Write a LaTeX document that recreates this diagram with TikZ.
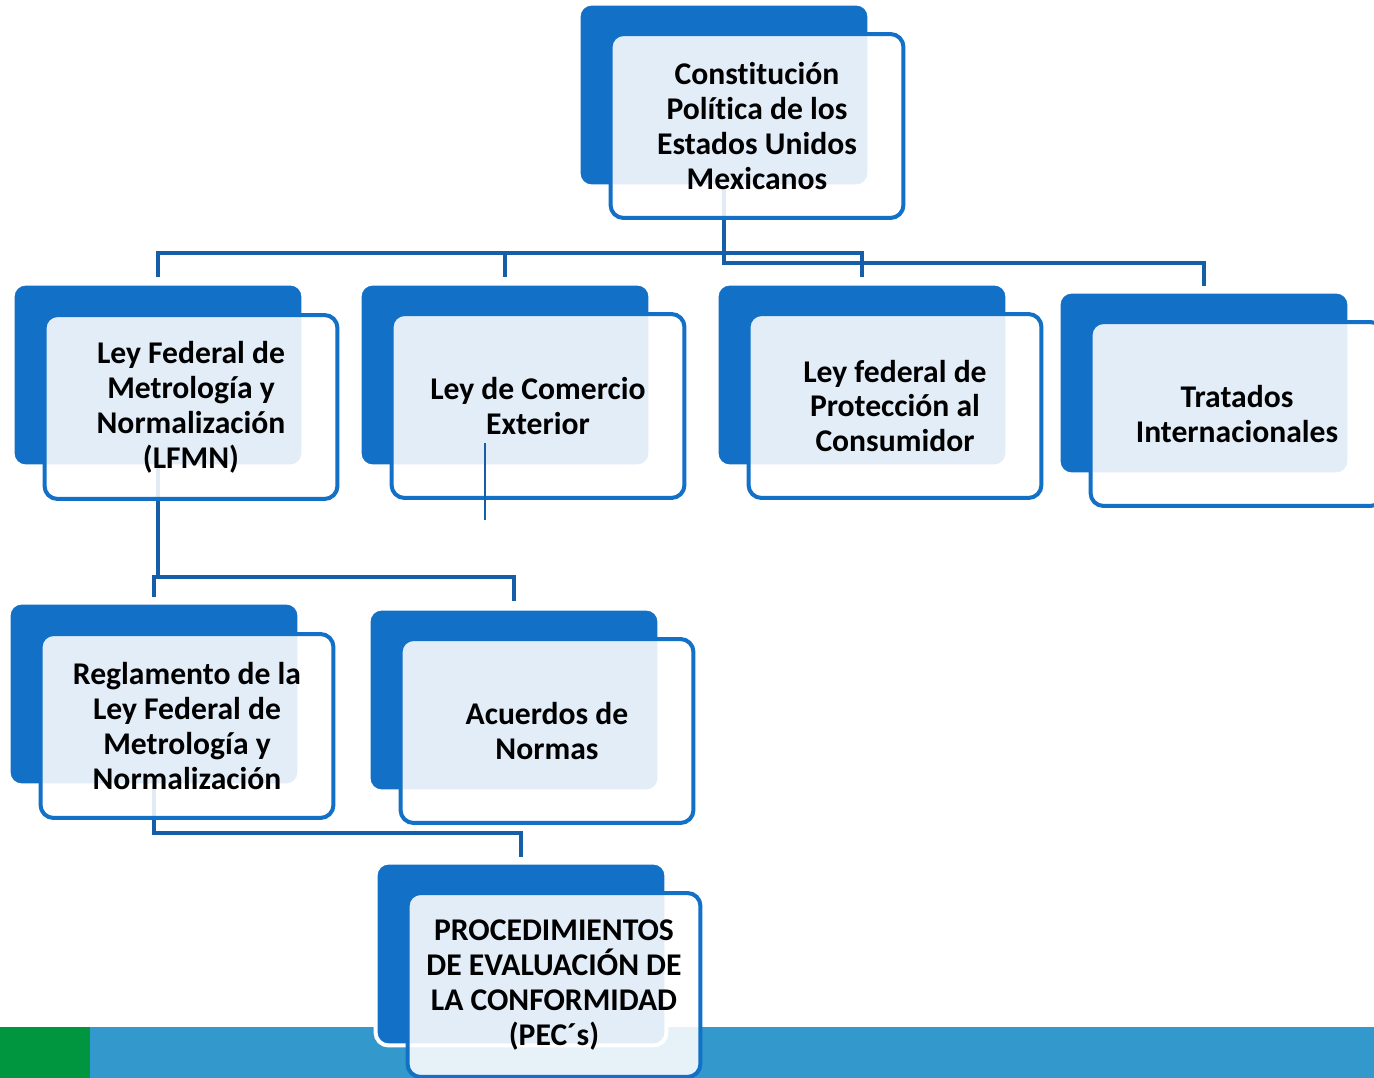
\documentclass[tikz,border=0pt]{standalone}
\usepackage{fontspec}
\setmainfont[Ligatures=NoCommon]{Carlito}
\usetikzlibrary{positioning}

\definecolor{boxblue}{RGB}{18,112,198}
\definecolor{linkblue}{RGB}{23,94,168}
\definecolor{stripblue}{RGB}{51,153,204}
\definecolor{stripgreen}{RGB}{0,150,64}

\tikzset{
  backbox/.style={fill=boxblue, draw=white, line width=0.08cm, rounded corners=0.26cm,
    minimum width=5.82cm, minimum height=3.66cm, inner sep=0pt, outer sep=0pt},
  frontbox/.style={fill=white, fill opacity=0.88, text opacity=1, draw=boxblue, draw opacity=1,
    line width=0.08cm, rounded corners=0.26cm, minimum width=5.86cm, minimum height=3.68cm,
    align=center, font=\bfseries\fontsize{18}{19.9}\selectfont, outer sep=0pt},
  link/.style={draw=linkblue, line width=0.09cm}
}

\begin{document}
\begin{tikzpicture}[x=0.02cm, y=-0.02cm]

  \useasboundingbox (0,0) rectangle (1374,1078);
  \clip (0,0) rectangle (1374,1078);

  % Bottom strip
  \fill[stripgreen] (0,1027) rectangle (90,1078);
  \fill[stripblue] (90,1027) rectangle (1374,1078);

  % Back boxes
  \node[backbox] (cpeum) at (724,95) {};
  \node[backbox] (lfmn) at (158,375) {};
  \node[backbox] (lce) at (505,375) {};
  \node[backbox] (lfpc) at (862,375) {};
  \node[backbox] (tratados) at (1204,383) {};
  \node[backbox] (rlfmn) at (154,694) {};
  \node[backbox] (acuerdos) at (514,700) {};
  \node[backbox] (pec) at (521,954) {};

  % Connectors
  \draw[link, shorten <=0.14cm, shorten >=0.14cm] (lfmn.north) -- (lfmn.north |- 0,253) -| (lfpc.north);
  \draw[link, shorten <=0.14cm] (lce.north) -- (lce.north |- 0,253);
  \draw[link, shorten >=0.12cm] (cpeum.south) -- (cpeum.south |- 0,263) -| (tratados.north);
  \draw[link] (lfmn.south) -- (lfmn.south |- 0,577);
  \draw[link, shorten <=0.12cm, shorten >=0.16cm] (rlfmn.north) -- (rlfmn.north |- 0,577) -| (acuerdos.north);
  \draw[link, shorten >=0.12cm] (rlfmn.south) -- (rlfmn.south |- 0,833) -| (pec.north);

  % Front boxes with the texts
  \node[frontbox] (cpeum-t) at (757,126) {Constitución\\Política de los\\Estados Unidos\\Mexicanos};
  \node[frontbox] (lfmn-t) at (191,407) {Ley Federal de\\Metrología y\\Normalización\\(LFMN)};
  \node[frontbox] (lce-t) at (538,406) {Ley de Comercio\\Exterior};
  \node[frontbox] (lfpc-t) at (895,406) {Ley federal de\\Protección al\\Consumidor};
  \node[frontbox] (tratados-t) at (1237,414) {Tratados\\Internacionales};
  \node[frontbox] (rlfmn-t) at (187,726) {Reglamento de la\\Ley Federal de\\Metrología y\\Normalización};
  \node[frontbox] (acuerdos-t) at (547,731) {Acuerdos de\\Normas};
  \node[frontbox] (pec-t) at (554,985) {PROCEDIMIENTOS\\DE EVALUACIÓN DE\\LA CONFORMIDAD\\(PEC´s)};

  % Stray stroke in the Comercio box
  \coordinate (stubtop) at (485,443);
  \coordinate (stubend) at (485,520);
  \draw[linkblue, line width=0.03cm] (stubtop) -- (stubend);

\end{tikzpicture}
\end{document}
